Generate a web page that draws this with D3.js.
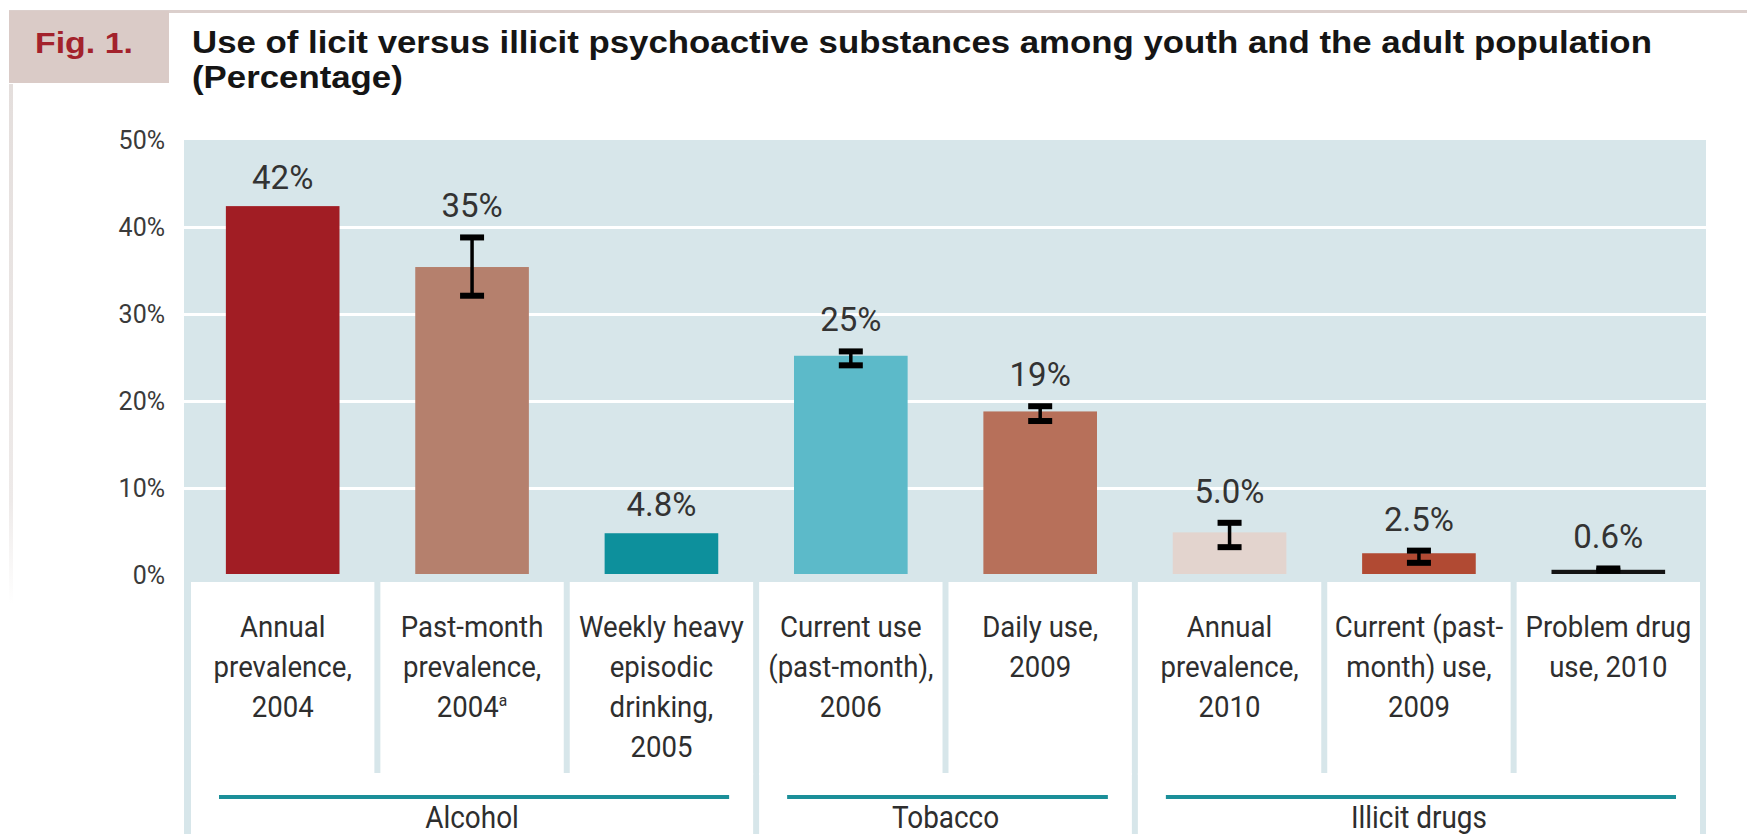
<!DOCTYPE html>
<html>
<head>
<meta charset="utf-8">
<script src="https://cdn.jsdelivr.net/npm/d3@7"></script>
<style>
  html, body { margin: 0; padding: 0; background: #ffffff; }
  svg { display: block; }
</style>
</head>
<body>
<svg id="chart" width="1747" height="834"></svg>
<script>
// ---------------- data ----------------
const categories = [
  "Annual\nprevalence,\n2004",
  "Past-month\nprevalence,\n2004^a",
  "Weekly heavy\nepisodic\ndrinking,\n2005",
  "Current use\n(past-month),\n2006",
  "Daily use,\n2009",
  "Annual\nprevalence,\n2010",
  "Current (past-\nmonth) use,\n2009",
  "Problem drug\nuse, 2010"
];
const values      = [42.4, 35.4, 4.8, 25.2, 18.8, 4.9, 2.5, 0.6];
const valueLabels = ["42%", "35%", "4.8%", "25%", "19%", "5.0%", "2.5%", "0.6%"];
const errLow      = [null, 32.1, null, 24.1, 17.7, 3.2, 1.4, 0.5];
const errHigh     = [null, 38.8, null, 25.7, 19.4, 6.0, 2.8, 0.75];
const barColors   = ["#a11d24", "#b5806d", "#0d909c", "#5cbac9", "#b7705a", "#e3d4ce", "#b14a33", "#141414"];
const groups      = ["Alcohol", "Tobacco", "Illicit drugs"];
const groupSizes  = [3, 2, 3];
const yTicks      = [0, 10, 20, 30, 40, 50];
const figLabel    = "Fig. 1.";
const titleLines  = ["Use of licit versus illicit psychoactive substances among youth and the adult population", "(Percentage)"];

// ---------------- layout ----------------
const svg = d3.select("#chart");
const plotLeft = 188, plotRight = 1703, plotTop = 140, plotBottom = 575;
const bgColor = "#d7e6ea";
const sansFont = "Roboto, 'Open Sans', sans-serif";

const y = d3.scaleLinear().domain([0, 50]).range([plotBottom, plotTop]);
const x = d3.scaleBand().domain(categories).range([plotLeft, plotRight]).paddingInner(0.4).paddingOuter(0.2);
const step = x.step();
const cellLeft  = c => x(c) - 0.2 * step;
const cellRight = c => x(c) + x.bandwidth() + 0.2 * step;

// page decorations: faint left shadow, top rule, figure box
const grad = svg.append("defs").append("linearGradient").attr("id", "shadow").attr("x1", 0).attr("x2", 0).attr("y1", 0).attr("y2", 1);
grad.append("stop").attr("offset", "0%").attr("stop-color", "#e4dedc");
grad.append("stop").attr("offset", "80%").attr("stop-color", "#eeeae9");
grad.append("stop").attr("offset", "100%").attr("stop-color", "#ffffff");
svg.append("rect").attr("x", 9).attr("y", 84).attr("width", 4).attr("height", 520).attr("fill", "url(#shadow)");

svg.append("rect").attr("x", 9).attr("y", 10).attr("width", 1747 - 9).attr("height", 3).attr("fill", "#dbcfcc");
svg.append("rect").attr("x", 9).attr("y", 11).attr("width", 160).attr("height", 72).attr("fill", "#dacbc7");

const figText = svg.append("text")
  .attr("x", 0).attr("y", 0)
  .attr("font-family", "'Liberation Sans', Arial, sans-serif")
  .attr("font-weight", "bold").attr("font-size", 30)
  .attr("fill", "#a3222c").text(figLabel);

const titleG = svg.append("g");
const tl = titleG.selectAll("text").data(titleLines).join("text")
  .attr("x", 0).attr("y", (d, i) => i * 35)
  .attr("font-family", "'Liberation Sans', Arial, sans-serif")
  .attr("font-weight", "bold").attr("font-size", 30.5)
  .attr("fill", "#151515").text(d => d);
const titleLen = tl.nodes()[0].getComputedTextLength();
const titleScale = (1652 - 192) / titleLen;
titleG.attr("transform", `translate(192,53.3) scale(${titleScale},1)`);
const figLen = figText.node().getComputedTextLength();
figText.attr("transform", `translate(35,53.3) scale(${98 / figLen},1)`);

// plot background (also forms the frame / separators of the label table)
svg.append("rect")
  .attr("x", plotLeft - 4).attr("y", plotTop)
  .attr("width", plotRight - plotLeft + 7).attr("height", 834 - plotTop)
  .attr("fill", bgColor);

// gridlines
const grid = svg.append("g").attr("transform", `translate(${plotLeft - 4},0)`)
  .call(d3.axisLeft(y).tickValues(yTicks.filter(t => t > 0 && t < 50)).tickSize(-(plotRight - plotLeft + 7)).tickFormat(""));
grid.select(".domain").remove();
grid.selectAll(".tick line").attr("stroke", "#ffffff").attr("stroke-width", 3);

// y-axis labels
const yAxis = svg.append("g").attr("transform", `translate(${plotLeft - 4},0)`)
  .call(d3.axisLeft(y).tickValues(yTicks).tickSize(0).tickPadding(19).tickFormat(d => d + "%"));
yAxis.select(".domain").remove();
yAxis.selectAll("text")
  .attr("font-family", sansFont).attr("font-size", 25).attr("fill", "#3a3a3a");

// white label cells
const cellTop = 582, cellBottom = 773;
svg.append("g").selectAll("rect").data(categories).join("rect")
  .attr("x", d => cellLeft(d) + 3).attr("y", cellTop)
  .attr("width", d => cellRight(d) - cellLeft(d) - 6).attr("height", cellBottom - cellTop + 2)
  .attr("fill", "#ffffff");

// group cells
let startIdx = 0;
const groupSpans = groups.map((g, gi) => {
  const first = categories[startIdx];
  const last = categories[startIdx + groupSizes[gi] - 1];
  startIdx += groupSizes[gi];
  return { name: g, left: cellLeft(first), right: cellRight(last) };
});
svg.append("g").selectAll("rect").data(groupSpans).join("rect")
  .attr("x", d => d.left + 3).attr("y", cellBottom)
  .attr("width", d => d.right - d.left - 6).attr("height", 834 - cellBottom)
  .attr("fill", "#ffffff");

// bars
svg.append("g").selectAll("rect").data(categories).join("rect")
  .attr("x", d => x(d)).attr("width", x.bandwidth())
  .attr("y", (d, i) => y(values[i]))
  .attr("height", (d, i) => y(0) - 1 - y(values[i]))
  .attr("fill", (d, i) => barColors[i]);

// error bars
const eb = svg.append("g");
categories.forEach((c, i) => {
  if (errLow[i] == null) return;
  const cx = x(c) + x.bandwidth() / 2;
  eb.append("line").attr("x1", cx).attr("x2", cx)
    .attr("y1", y(errHigh[i])).attr("y2", y(errLow[i]))
    .attr("stroke", "#000").attr("stroke-width", 3.5);
  [errHigh[i], errLow[i]].forEach(v => {
    eb.append("rect").attr("x", cx - 12).attr("y", y(v) - 3)
      .attr("width", 24).attr("height", 6).attr("fill", "#000");
  });
});

// value labels
svg.append("g").selectAll("text").data(categories).join("text")
  .attr("x", d => x(d) + x.bandwidth() / 2)
  .attr("y", (d, i) => {
    const top = errHigh[i] != null ? Math.min(y(values[i]), y(errHigh[i]) - 3) : y(values[i]);
    return top - 17;
  })
  .attr("text-anchor", "middle")
  .attr("font-family", sansFont).attr("font-size", 33).attr("fill", "#333")
  .text((d, i) => valueLabels[i]);

// category labels
const catG = svg.append("g");
categories.forEach(c => {
  const cx = x(c) + x.bandwidth() / 2;
  c.split("\n").forEach((line, k) => {
    const t = catG.append("text")
      .attr("transform", `translate(${cx},${636.7 + k * 40}) scale(0.92,1)`)
      .attr("text-anchor", "middle")
      .attr("font-family", sansFont).attr("font-size", 30).attr("fill", "#2e2e2e");
    const parts = line.split("^");
    t.append("tspan").text(parts[0]);
    if (parts[1]) t.append("tspan").attr("font-size", 17).attr("dy", -11).text(parts[1]);
  });
});

// group lines and labels
const gG = svg.append("g");
gG.selectAll("line").data(groupSpans).join("line")
  .attr("x1", d => d.left + 31).attr("x2", d => d.right - 27)
  .attr("y1", 797).attr("y2", 797)
  .attr("stroke", "#1b8f99").attr("stroke-width", 4);
gG.selectAll("text").data(groupSpans).join("text")
  .attr("transform", d => `translate(${(d.left + d.right) / 2},828) scale(0.9,1)`)
  .attr("text-anchor", "middle")
  .attr("font-family", sansFont).attr("font-size", 31).attr("fill", "#2e2e2e")
  .text(d => d.name);
</script>
</body>
</html>
